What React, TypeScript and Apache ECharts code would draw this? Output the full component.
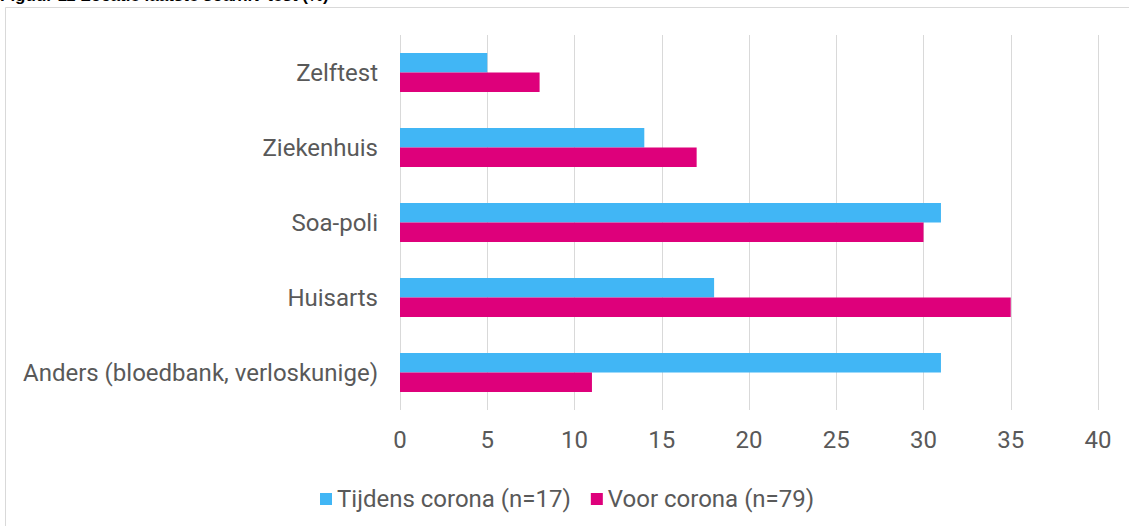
import React, { useEffect, useRef } from "react";
import * as echarts from "echarts";

const categories = ["Zelftest", "Ziekenhuis", "Soa-poli", "Huisarts", "Anders (bloedbank, verloskunige)"];
const tijdensCorona = [5, 14, 31, 18, 31];
const voorCorona = [8, 17, 30, 35, 11];
const seriesNames = ["Tijdens corona (n=17)", "Voor corona (n=79)"];
const titleText = "Figuur 11 Locatie laatste soa/hiv-test (%)";

export default function App() {
  const ref = useRef<HTMLDivElement>(null);
  useEffect(() => {
    if (!ref.current) return;
    const chart = echarts.init(ref.current, null, { renderer: "svg" });
    const font = "Roboto, 'Noto Sans', sans-serif";
    chart.setOption({
      animation: false,
      backgroundColor: "#ffffff",
      graphic: [
        {
          type: "rect",
          shape: { x: 5.5, y: 7.5, width: 1300, height: 700 },
          style: { fill: "none", stroke: "#d9d9d9", lineWidth: 1 },
          silent: true,
        },
        {
          type: "text",
          left: 0,
          top: -13,
          style: {
            text: titleText,
            font: "bold 17px 'Liberation Sans', Arial, sans-serif",
            fill: "#000000",
          },
        },
      ],
      grid: { left: 400, right: 31, top: 35, bottom: 116, containLabel: false },
      legend: {
        left: 315,
        top: 482,
        itemWidth: 12,
        itemHeight: 12,
        itemGap: 20,
        icon: "rect",
        textStyle: { fontFamily: font, fontSize: 24, color: "#595959" },
        data: seriesNames,
      },
      xAxis: {
        type: "value",
        min: 0,
        max: 40,
        interval: 5,
        axisLine: { show: false },
        axisTick: { show: false },
        splitLine: { show: true, lineStyle: { color: "#d9d9d9", width: 1 } },
        axisLabel: { fontFamily: font, fontSize: 24, color: "#595959", margin: 18 },
      },
      yAxis: {
        type: "category",
        inverse: true,
        data: categories,
        axisLine: { show: false },
        axisTick: { show: false },
        axisLabel: { fontFamily: font, fontSize: 24, color: "#595959", margin: 22 },
      },
      series: [
        {
          name: seriesNames[0],
          type: "bar",
          data: tijdensCorona,
          itemStyle: { color: "#41b6f5" },
          barGap: "0%",
          barCategoryGap: "48%",
        },
        {
          name: seriesNames[1],
          type: "bar",
          data: voorCorona,
          itemStyle: { color: "#de007b" },
          barGap: "0%",
          barCategoryGap: "48%",
        },
      ],
    });
    return () => chart.dispose();
  }, []);
  return (
    <div
      ref={ref}
      style={{ position: "fixed", left: 0, top: 0, width: 1129, height: 526, background: "#fff" }}
    />
  );
}
